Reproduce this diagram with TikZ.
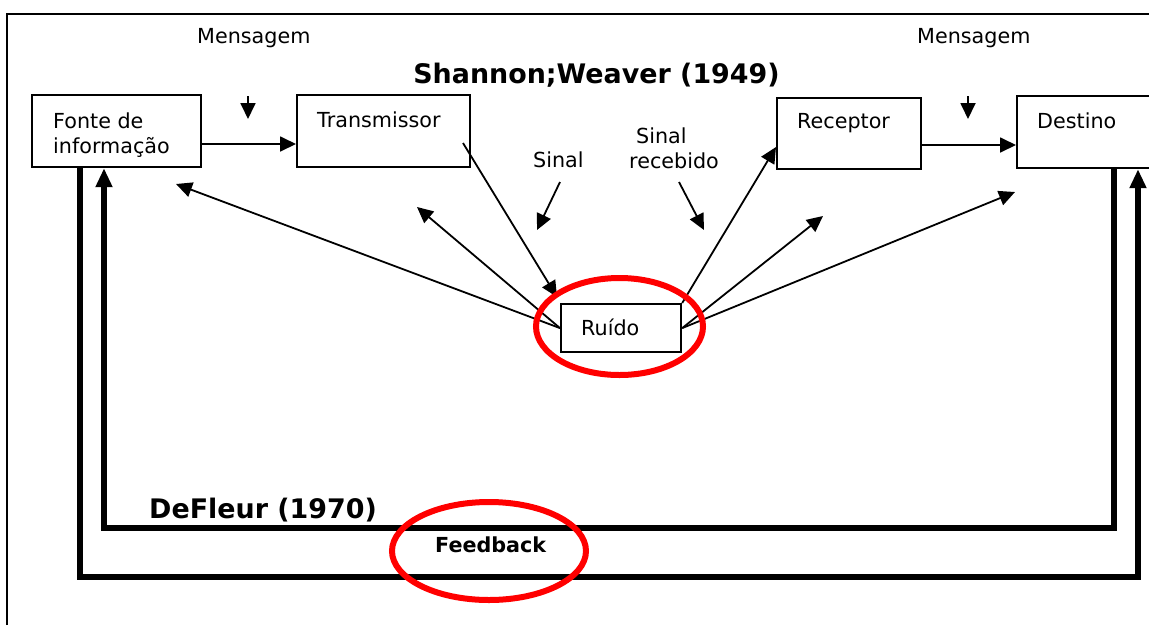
\documentclass[tikz,border=0pt]{standalone}
\usepackage{fontspec}
\setmainfont{DejaVu Sans}
\usetikzlibrary{arrows.meta,shapes.geometric}
\begin{document}
\begin{tikzpicture}[x=1pt,y=-1pt,
  box/.style={draw, line width=2.2pt, rectangle, inner sep=0pt, anchor=north west},
  lbl/.style={inner sep=0pt, font=\fontsize{20.7}{25}\selectfont},
  boldlbl/.style={inner sep=0pt, font=\fontsize{20.7}{25}\selectfont\bfseries},
  bigbold/.style={inner sep=0pt, font=\fontsize{26.9}{32}\selectfont\bfseries},
  conn/.style={line width=1.8pt, -{Triangle[length=16pt,width=15pt]}},
  fb/.style={line width=5.5pt, line join=miter},
  fbarrow/.style={fb, -{Triangle[length=19pt,width=16pt]}},
  ring/.style={ellipse, draw=red, line width=6pt, inner sep=0pt}]
\clip (0,0) rectangle (1149,625);

% outer frame (left and top edges)
\draw[line width=1.4pt] (7,625) -- (7,14) -- (1149,14);

% boxes
\node[box, minimum width=169, minimum height=72] (fonte) at (31,94) {};
\node[box, minimum width=173, minimum height=72] (tx) at (296,94) {};
\node[box, minimum width=144, minimum height=71] (rx) at (776,97) {};
\node[box, minimum width=160, minimum height=72] (dest) at (1016,95) {};
\node[box, minimum width=120, minimum height=48] (ruido) at (560,303) {};

% texts
\node[lbl, anchor=base west] (msg1) at (197,43) {Mensagem};
\node[lbl, anchor=base west] (msg2) at (917,43) {Mensagem};
\node[bigbold, anchor=base] (title) at (596.5,83) {Shannon;Weaver (1949)};
\node[lbl, anchor=north west, align=left] (fonteT) at (53,112.3) {Fonte de\\informação};
\node[lbl, anchor=base west] (txT) at (317,127) {Transmissor};
\node[lbl, anchor=base west] (rxT) at (797,128) {Receptor};
\node[lbl, anchor=base west] (destT) at (1037,128) {Destino};
\node[lbl, anchor=base west] (sinal) at (533,167) {Sinal};
\node[lbl, anchor=north west, align=left] (sinalrec) at (629,127.3) {\hspace*{7pt}Sinal\\recebido};
\node[lbl, anchor=base west] (ruidoT) at (581,335) {Ruído};
\node[bigbold, anchor=base west] (defleur) at (149,518) {DeFleur (1970)};
\node[boldlbl, anchor=base west] (feedback) at (435,552) {Feedback};

% free ends of the small arrows
\coordinate (m1a) at (248,96);  \coordinate (m1b) at (248,119);
\coordinate (m2a) at (968,96);  \coordinate (m2b) at (968,119);
\coordinate (s1a) at (560,182); \coordinate (s1b) at (537,230);
\coordinate (s2a) at (679,182); \coordinate (s2b) at (704,230);
\coordinate (txout) at (463,143);
\coordinate (ruin) at (557,297);
\coordinate (nf) at (176,184);
\coordinate (nt) at (417,207);
\coordinate (nr) at (823,216);
\coordinate (nd) at (1015,192);

% main chain
\draw[conn] (fonte.east |- 0,144) -- (tx.west |- 0,144);
\draw[conn] (rx.east |- 0,145) -- (dest.west |- 0,145);
\draw[conn] (m1a) -- (m1b);
\draw[conn] (m2a) -- (m2b);
\draw[conn] (s1a) -- (s1b);
\draw[conn] (s2a) -- (s2b);
\draw[conn] (txout) -- (ruin);

% noise spreading out
\draw[conn] (ruido.west) -- (nf);
\draw[conn] (ruido.west) -- (nt);
\draw[conn] (ruido.east) -- (nr);
\draw[conn] (ruido.east) -- (nd);
\draw[conn] (ruido.north east) -- (rx.west |- 0,147);

% feedback loops
\draw[fbarrow] (80,0 |- fonte.south) -- (80,577) -- (1138,577) -- (1138,0 |- dest.south);
\draw[fbarrow] (1114,0 |- dest.south) -- (1114,528) -- (104,528) -- (104,0 |- fonte.south);

% highlight rings
\node[ring, minimum width=167, minimum height=97] (ring1) at (619.5,326.5) {};
\node[ring, minimum width=194, minimum height=98] (ring2) at (489,551) {};
\end{tikzpicture}
\end{document}
